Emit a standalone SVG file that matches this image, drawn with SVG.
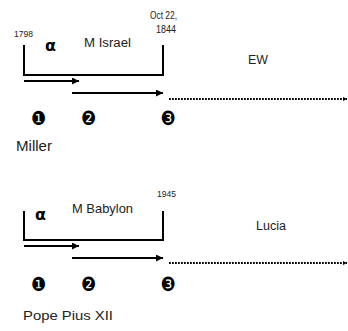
<svg xmlns="http://www.w3.org/2000/svg" width="348" height="331" viewBox="0 0 348 331">
<style>
.t{font-family:"Liberation Sans",Arial,sans-serif;fill:#222}
.a{font-family:"DejaVu Sans",sans-serif;font-size:16px;font-weight:bold;fill:#000}
.n{font-family:"DejaVu Sans",sans-serif;font-size:19.5px;fill:#000}
.br{fill:none;stroke:#000;stroke-width:2}
.ar{stroke:#000;stroke-width:2;fill:none}
.dt{stroke:#000;stroke-width:2;stroke-dasharray:1.8 1.2;fill:none}
</style>
<defs>
<marker id="ah" viewBox="0 0 10 10" refX="10" refY="5" markerWidth="4.5" markerHeight="3.5" orient="auto" markerUnits="strokeWidth"><path d="M0,0 L10,5 L0,10 Z" fill="#000"/></marker>
<marker id="ah2" viewBox="0 0 10 10" refX="10" refY="5" markerWidth="2" markerHeight="3" orient="auto" markerUnits="strokeWidth"><path d="M0,0 L10,5 L0,10 Z" fill="#000"/></marker>
</defs>
<g id="connectors">
<path class="br" d="M24,45 V75 H163 V45"/>
<line class="ar" x1="24" y1="81" x2="79" y2="81" marker-end="url(#ah)"/>
<line class="ar" x1="72" y1="93" x2="163" y2="93" marker-end="url(#ah)"/>
<line class="dt" x1="169" y1="99" x2="347" y2="99" marker-end="url(#ah2)"/>
<path class="br" d="M24,211 V240 H163 V211"/>
<line class="ar" x1="24" y1="246" x2="79" y2="246" marker-end="url(#ah)"/>
<line class="ar" x1="72" y1="258" x2="163" y2="258" marker-end="url(#ah)"/>
<line class="dt" x1="169" y1="263" x2="347" y2="263" marker-end="url(#ah2)"/>
</g>
<g id="top">
<text class="t" font-size="8.5" x="14" y="37" textLength="19" lengthAdjust="spacingAndGlyphs">1798</text>
<text class="a" x="45" y="51">α</text>
<text class="t" font-size="12.5" x="84" y="47" textLength="47" lengthAdjust="spacingAndGlyphs">M Israel</text>
<text class="t" font-size="10.5" x="150" y="18.5" textLength="27" lengthAdjust="spacingAndGlyphs">Oct 22,</text>
<text class="t" font-size="10" x="156" y="33" textLength="20" lengthAdjust="spacingAndGlyphs">1844</text>
<text class="t" font-size="12" x="248" y="64" textLength="20" lengthAdjust="spacingAndGlyphs">EW</text>
<text class="n" transform="translate(38.5,124.5) scale(0.87,1)" text-anchor="middle">❶</text>
<text class="n" transform="translate(88.5,124.5) scale(0.87,1)" text-anchor="middle">❷</text>
<text class="n" transform="translate(168,124.5) scale(0.87,1)" text-anchor="middle">❸</text>
<text class="t" font-size="14" x="16" y="150.5" textLength="36" lengthAdjust="spacingAndGlyphs">Miller</text>
</g>
<g id="bottom">
<text class="t" font-size="8.5" x="157" y="197" textLength="19" lengthAdjust="spacingAndGlyphs">1945</text>
<text class="a" x="35" y="220">α</text>
<text class="t" font-size="13" x="72" y="213" textLength="61" lengthAdjust="spacingAndGlyphs">M Babylon</text>
<text class="t" font-size="12.5" x="256" y="230" textLength="30" lengthAdjust="spacingAndGlyphs">Lucia</text>
<text class="n" transform="translate(38.5,291) scale(0.87,1)" text-anchor="middle">❶</text>
<text class="n" transform="translate(88.5,291) scale(0.87,1)" text-anchor="middle">❷</text>
<text class="n" transform="translate(168,291) scale(0.87,1)" text-anchor="middle">❸</text>
<text class="t" font-size="13" x="23" y="320" textLength="90" lengthAdjust="spacingAndGlyphs">Pope Pius XII</text>
</g>
</svg>
